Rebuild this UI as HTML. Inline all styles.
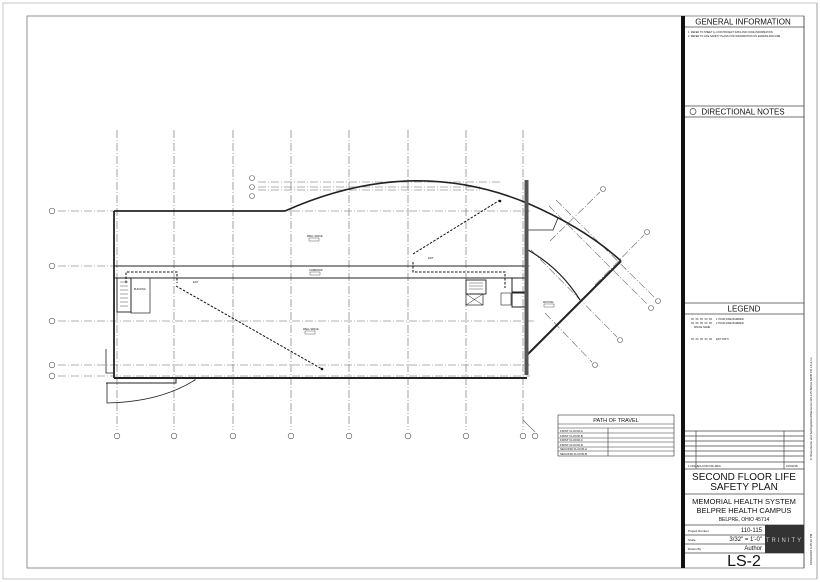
<!DOCTYPE html>
<html><head><meta charset="utf-8"><style>
html,body{margin:0;padding:0;background:#fff}
svg{display:block}
text{font-family:"Liberation Sans",sans-serif;fill:#111}
</style></head><body>
<svg width="820" height="582" viewBox="0 0 820 582" xmlns="http://www.w3.org/2000/svg">
<rect x="0" y="0" width="820" height="582" fill="#fff"/>
<rect x="3" y="3" width="814" height="576" fill="none" stroke="#bbb" stroke-width="0.8"/>
<rect x="27" y="16" width="777" height="552" fill="none" stroke="#777" stroke-width="0.8"/>
<line x1="817" y1="3" x2="817" y2="579" stroke="#999" stroke-width="0.8"/>

<!-- grid lines -->
<g stroke="#666" stroke-width="0.6" stroke-dasharray="8,2,1,2" fill="none">
<line x1="117" y1="130" x2="117" y2="430"/><line x1="174" y1="130" x2="174" y2="430"/>
<line x1="233" y1="130" x2="233" y2="430"/><line x1="291" y1="130" x2="291" y2="430"/>
<line x1="349" y1="130" x2="349" y2="430"/><line x1="408" y1="130" x2="408" y2="430"/>
<line x1="466" y1="130" x2="466" y2="430"/><line x1="523" y1="130" x2="523" y2="430"/>
<line x1="58" y1="211" x2="530" y2="211"/><line x1="58" y1="266" x2="530" y2="266"/>
<line x1="58" y1="321" x2="535" y2="321"/><line x1="58" y1="365" x2="530" y2="365"/>
<line x1="58" y1="376" x2="530" y2="376"/>
<line x1="258" y1="182" x2="500" y2="182"/><line x1="258" y1="187" x2="480" y2="187"/><line x1="258" y1="190" x2="480" y2="190"/>
<line x1="550" y1="241" x2="600" y2="192"/><line x1="595" y1="285" x2="644" y2="235"/>
<line x1="556" y1="200" x2="655" y2="298"/><line x1="549" y1="206" x2="648" y2="305"/>
<line x1="531" y1="250" x2="617" y2="337"/><line x1="545" y1="313" x2="592" y2="362"/>
</g>
<line x1="523" y1="420" x2="535" y2="432" stroke="#666" stroke-width="0.6"/>
<g fill="#fff" stroke="#555" stroke-width="0.6">
<circle cx="117" cy="436" r="2.8"/><circle cx="174" cy="436" r="2.8"/><circle cx="233" cy="436" r="2.8"/>
<circle cx="291" cy="436" r="2.8"/><circle cx="349" cy="436" r="2.8"/><circle cx="408" cy="436" r="2.8"/>
<circle cx="466" cy="436" r="2.8"/><circle cx="523" cy="436" r="2.8"/><circle cx="535" cy="436" r="2.8"/>
<circle cx="52" cy="211" r="2.8"/><circle cx="52" cy="266" r="2.8"/><circle cx="52" cy="321" r="2.8"/>
<circle cx="52" cy="365" r="2.8"/><circle cx="52" cy="376" r="2.8"/>
<circle cx="252" cy="178" r="2.5"/><circle cx="252" cy="187" r="2.5"/><circle cx="252" cy="196" r="2.5"/>
<circle cx="603" cy="189" r="2.5"/><circle cx="647" cy="232" r="2.5"/><circle cx="658" cy="301" r="2.5"/>
<circle cx="651" cy="308" r="2.5"/><circle cx="620" cy="340" r="2.5"/><circle cx="595" cy="365" r="2.5"/>
</g>

<!-- building walls -->
<g fill="none" stroke="#222">
<path d="M114 211 H285" stroke-width="1.8"/>
<path d="M285 211 Q410 155 527 203" stroke-width="1.6"/>
<path d="M527 203 Q585 228 621 261" stroke-width="1.6"/>
<path d="M621 261 L527 355" stroke-width="2"/>
<path d="M528 250 Q560 268 580 300" stroke-width="1.2"/>
<path d="M527 230 H553 L558 218" stroke-width="0.8"/>
<path d="M114 211 V378" stroke-width="1.8"/>
<path d="M114 378 H527" stroke-width="2"/>
<path d="M106 383 H176 V378" stroke-width="1"/>
<path d="M114 266 H527 M114 278 H527" stroke-width="0.9"/>
<path d="M106 349 V373 H114" stroke-width="0.8"/>
<path d="M107 383 V403 Q160 402 195 380 V378" stroke-width="0.8"/>
<rect x="117" y="278" width="14" height="34" stroke-width="0.9"/>
<rect x="131" y="278" width="19" height="35" stroke-width="0.7"/>
<path d="M120 282 H128 M120 286 H128 M120 290 H128 M120 294 H128 M120 298 H128 M120 302 H128 M120 306 H128" stroke-width="0.4"/>
<rect x="466" y="280" width="20" height="14" stroke-width="0.9"/>
<path d="M469 283 H483 M469 286 H483 M469 289 H483" stroke-width="0.4"/>
<rect x="466" y="294" width="17" height="11" stroke-width="0.7"/>
<path d="M466 294 L483 305 M483 294 L466 305" stroke-width="0.5"/>
<rect x="512" y="278" width="14" height="14" stroke-width="1"/>
<rect x="512" y="293" width="14" height="14" stroke-width="1"/>
<rect x="501" y="293" width="10" height="12" stroke-width="0.6"/>
</g>
<rect x="524.5" y="180" width="4" height="195" fill="#555"/>

<!-- path of travel -->
<g fill="none" stroke="#111" stroke-width="1" stroke-dasharray="2.5,1.5">
<path d="M176 286 L322 369"/>
<path d="M126 283 V272 H177 V283"/>
<path d="M500 200 L413 254"/>
<path d="M413 262 V272 H505 V288"/>
</g>
<circle cx="322" cy="369" r="1.3" fill="#111"/><circle cx="500" cy="201" r="1.3" fill="#111"/>
<g font-size="2.5">
<text x="307" y="237">WELL SPACE</text><rect x="309" y="238" width="10" height="3" fill="none" stroke="#333" stroke-width="0.4"/>
<text x="309" y="271">CORRIDOR</text><rect x="310" y="272" width="10" height="3" fill="none" stroke="#333" stroke-width="0.4"/>
<text x="303" y="330">WELL SPACE</text><rect x="305" y="331" width="10" height="3" fill="none" stroke="#333" stroke-width="0.4"/>
<text x="543" y="303">WAITING</text><rect x="544" y="304" width="10" height="3" fill="none" stroke="#333" stroke-width="0.4"/>
<text x="134" y="290">BUILDING</text><text x="193" y="283">EXIT</text><text x="428" y="259">EXIT</text>
</g>

<!-- path of travel table -->
<g stroke="#333" stroke-width="0.6" fill="none">
<rect x="558" y="415" width="116" height="41"/>
<line x1="558" y1="424" x2="674" y2="424"/><line x1="558" y1="428" x2="674" y2="428"/>
<line x1="558" y1="433" x2="674" y2="433"/><line x1="558" y1="438" x2="674" y2="438"/>
<line x1="558" y1="442" x2="674" y2="442"/><line x1="558" y1="447" x2="674" y2="447"/>
<line x1="558" y1="451" x2="674" y2="451"/><line x1="608" y1="428" x2="608" y2="456"/>
</g>
<text x="616" y="422" font-size="5.5" text-anchor="middle">PATH OF TRAVEL</text>
<g font-size="3">
<text x="560" y="432">FIRST FLOOR-A</text><text x="560" y="437">FIRST FLOOR-B</text><text x="560" y="441">FIRST FLOOR-C</text>
<text x="560" y="446">FIRST FLOOR-D</text><text x="560" y="450">SECOND FLOOR-A</text><text x="560" y="455">SECOND FLOOR-B</text>
</g>

<!-- title block -->
<rect x="681" y="16" width="4" height="552" fill="#111"/>
<g stroke="#444" stroke-width="0.7" fill="none">
<line x1="685" y1="27" x2="804" y2="27"/>
<line x1="685" y1="106" x2="804" y2="106"/><line x1="685" y1="117" x2="804" y2="117"/>
<line x1="685" y1="303" x2="804" y2="303"/><line x1="685" y1="314" x2="804" y2="314"/>
<line x1="685" y1="431" x2="804" y2="431"/><line x1="685" y1="436" x2="804" y2="436"/>
<line x1="685" y1="441" x2="804" y2="441"/><line x1="685" y1="446" x2="804" y2="446"/>
<line x1="685" y1="451" x2="804" y2="451"/><line x1="685" y1="456" x2="804" y2="456"/>
<line x1="685" y1="462" x2="804" y2="462"/><line x1="685" y1="469" x2="804" y2="469"/>
<line x1="696" y1="431" x2="696" y2="469"/><line x1="784" y1="431" x2="784" y2="469"/>
<line x1="685" y1="494" x2="804" y2="494"/><line x1="685" y1="525" x2="804" y2="525"/>
<line x1="685" y1="535" x2="765" y2="535"/><line x1="685" y1="544" x2="765" y2="544"/>
<line x1="685" y1="553" x2="804" y2="553"/>
<line x1="804" y1="16" x2="804" y2="568"/>
<circle cx="693" cy="111.5" r="3"/>
</g>
<rect x="765" y="525" width="39" height="28" fill="#333"/>
<text x="784.5" y="542" font-size="6" fill="#ccc" text-anchor="middle" letter-spacing="2" style="fill:#ccc">TRINITY</text>
<text x="743" y="24.5" font-size="8" text-anchor="middle">GENERAL INFORMATION</text>
<text x="688" y="33" font-size="2.5">1. REFER TO SHEET G- FOR PROJECT DATA AND CODE INFORMATION</text>
<text x="688" y="37" font-size="2.5">2. REFER TO LIFE SAFETY PLANS FOR INFORMATION ON EGRESS AND FIRE</text>
<text x="743" y="114.5" font-size="8" text-anchor="middle">DIRECTIONAL NOTES</text>
<text x="744" y="311.5" font-size="8" text-anchor="middle">LEGEND</text>
<g stroke="#333" stroke-width="0.8" stroke-dasharray="3,1.5">
<line x1="691" y1="319" x2="712" y2="319"/><line x1="691" y1="323" x2="712" y2="323"/>
<line x1="691" y1="339" x2="712" y2="339"/></g>
<g font-size="2.5"><text x="716" y="320">1 HOUR FIRE BARRIER</text><text x="716" y="324">2 HOUR FIRE BARRIER</text><text x="716" y="340">EXIT PATH</text><text x="694" y="328">SPACE NAME</text></g>
<text x="688" y="467" font-size="3">1   ISSUES FOR DD-90%</text><text x="786" y="467" font-size="3">10/02/18</text>
<text x="744" y="480" font-size="10" text-anchor="middle">SECOND FLOOR LIFE</text>
<text x="744" y="490" font-size="10" text-anchor="middle">SAFETY PLAN</text>
<text x="744" y="504" font-size="7.5" text-anchor="middle">MEMORIAL HEALTH SYSTEM</text>
<text x="744" y="513" font-size="7.5" text-anchor="middle">BELPRE HEALTH CAMPUS</text>
<text x="744" y="521" font-size="5" text-anchor="middle">BELPRE, OHIO 45714</text>
<g font-size="3"><text x="688" y="532">Project Number</text><text x="688" y="541">Scale</text><text x="688" y="550">Drawn By</text></g>
<g font-size="6" text-anchor="end"><text x="762" y="532">110-115</text><text x="762" y="541">3/32" = 1'-0"</text><text x="762" y="550">Author</text></g>
<text x="744" y="566" font-size="16" text-anchor="middle">LS-2</text>
<text transform="translate(812,460) rotate(-90)" font-size="3">C:\Documents and Settings\Revit\Memorial 110-115 Belpre MOB CD LS-2.rvt</text>
<text transform="translate(812,565) rotate(-90)" font-size="3">10/02/2018 4:28:30 PM</text>
</svg>
</body></html>
